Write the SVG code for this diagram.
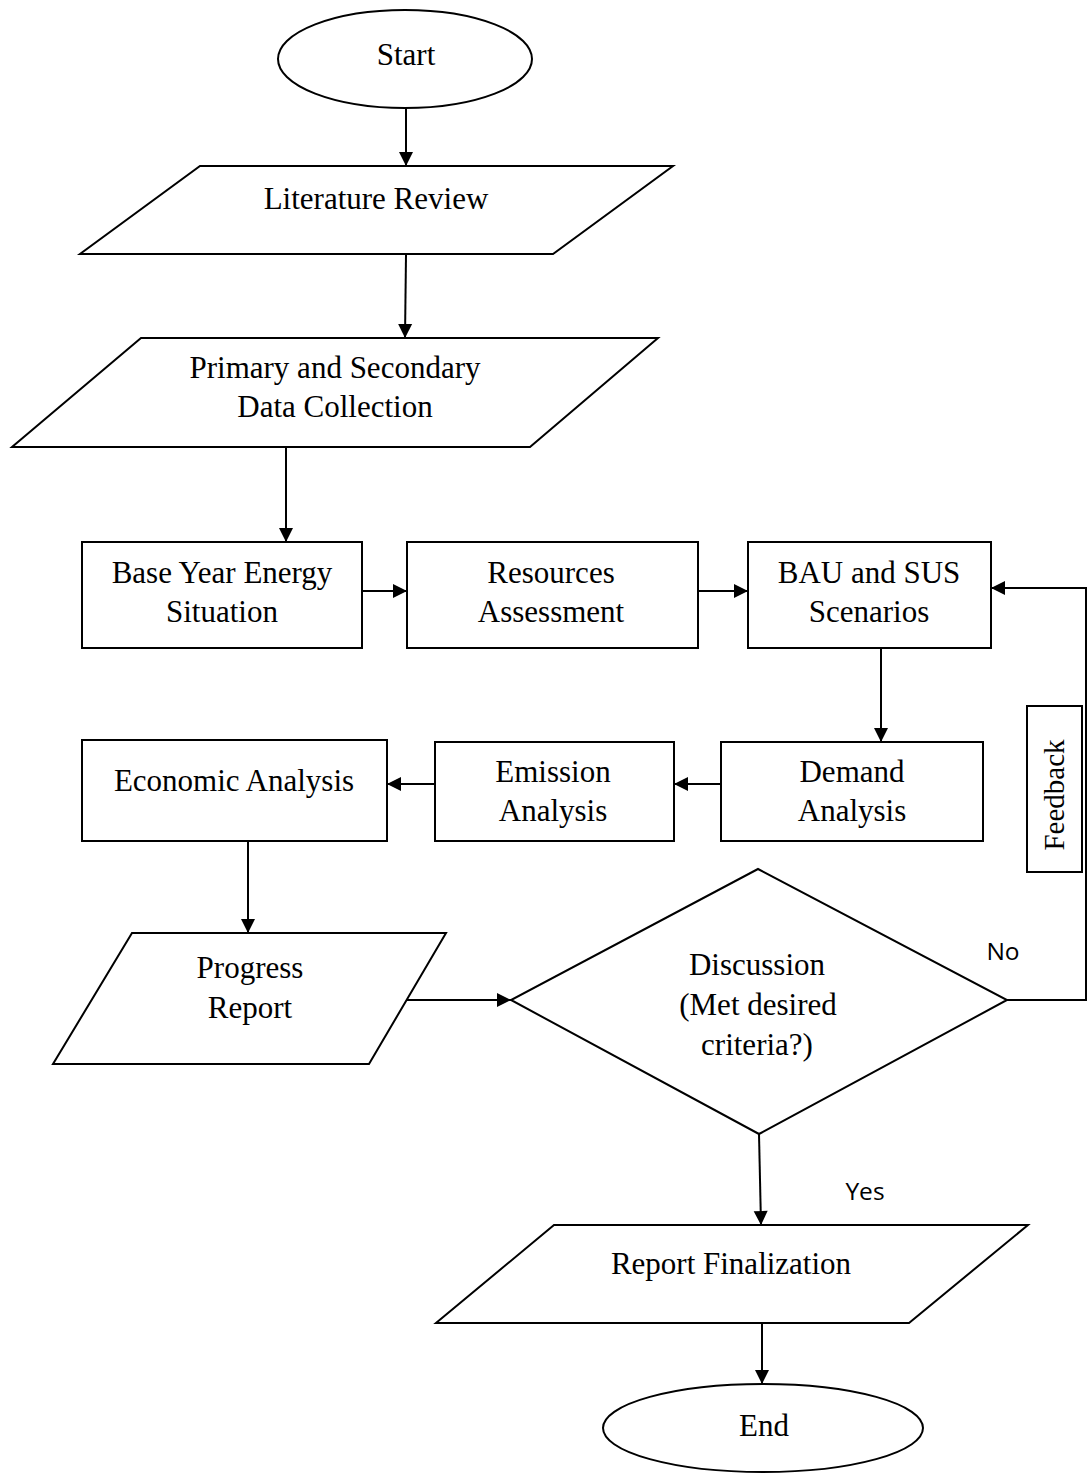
<svg xmlns="http://www.w3.org/2000/svg" width="1087" height="1475" viewBox="0 0 1087 1475">
<style>
.s{fill:#fff;stroke:#000;stroke-width:2}
.t{font-family:"Liberation Serif","Times New Roman",serif;font-size:31px;fill:#000;text-anchor:middle}
.f{font-family:"Liberation Serif","Times New Roman",serif;font-size:29px;fill:#000;text-anchor:middle}
.l{font-family:"Open Sans","Noto Sans",sans-serif;font-size:24.5px;fill:#000;text-anchor:middle}
.c{fill:none;stroke:#000;stroke-width:2}
</style>
<defs>
<marker id="ah" markerUnits="userSpaceOnUse" markerWidth="16" markerHeight="16" viewBox="0 0 16 16" refX="15" refY="8" orient="auto">
<path d="M1,1 L15,8 L1,15 Z" fill="#000"/>
</marker>
</defs>
<rect width="1087" height="1475" fill="#fff"/>
<g id="connectors">
<line class="c" x1="406" y1="108" x2="406" y2="166" marker-end="url(#ah)"/>
<line class="c" x1="406" y1="255" x2="405" y2="338" marker-end="url(#ah)"/>
<line class="c" x1="286" y1="447" x2="286" y2="542" marker-end="url(#ah)"/>
<line class="c" x1="362" y1="591" x2="407" y2="591" marker-end="url(#ah)"/>
<line class="c" x1="698" y1="591" x2="748" y2="591" marker-end="url(#ah)"/>
<line class="c" x1="881" y1="648" x2="881" y2="742" marker-end="url(#ah)"/>
<line class="c" x1="721" y1="784" x2="674" y2="784" marker-end="url(#ah)"/>
<line class="c" x1="435" y1="784" x2="387" y2="784" marker-end="url(#ah)"/>
<line class="c" x1="248" y1="841" x2="248" y2="933" marker-end="url(#ah)"/>
<line class="c" x1="407" y1="1000" x2="511" y2="1000" marker-end="url(#ah)"/>
<line class="c" x1="759" y1="1134" x2="761" y2="1225" marker-end="url(#ah)"/>
<line class="c" x1="762" y1="1323" x2="762" y2="1384" marker-end="url(#ah)"/>
<polyline class="c" points="1007,1000 1086,1000 1086,588 991,588" marker-end="url(#ah)"/>
</g>
<g id="start">
<ellipse class="s" cx="405" cy="59" rx="127" ry="49"/>
<text class="t" x="406" y="65">Start</text>
</g>
<g id="literature">
<polygon class="s" points="200,166 673,166 553,254 80,254"/>
<text class="t" x="376" y="209">Literature Review</text>
</g>
<g id="data">
<polygon class="s" points="141,338 658,338 530,447 12,447"/>
<text class="t" x="335" y="378">Primary and Secondary</text>
<text class="t" x="335" y="417">Data Collection</text>
</g>
<g id="base">
<rect class="s" x="82" y="542" width="280" height="106"/>
<text class="t" x="222" y="583">Base Year Energy</text>
<text class="t" x="222" y="622">Situation</text>
</g>
<g id="resources">
<rect class="s" x="407" y="542" width="291" height="106"/>
<text class="t" x="551" y="583">Resources</text>
<text class="t" x="551" y="622">Assessment</text>
</g>
<g id="scenarios">
<rect class="s" x="748" y="542" width="243" height="106"/>
<text class="t" x="869" y="583">BAU and SUS</text>
<text class="t" x="869" y="622">Scenarios</text>
</g>
<g id="demand">
<rect class="s" x="721" y="742" width="262" height="99"/>
<text class="t" x="852" y="782">Demand</text>
<text class="t" x="852" y="821">Analysis</text>
</g>
<g id="emission">
<rect class="s" x="435" y="742" width="239" height="99"/>
<text class="t" x="553" y="782">Emission</text>
<text class="t" x="553" y="821">Analysis</text>
</g>
<g id="economic">
<rect class="s" x="82" y="740" width="305" height="101"/>
<text class="t" x="234" y="791">Economic Analysis</text>
</g>
<g id="progress">
<polygon class="s" points="132,933 446,933 369,1064 53,1064"/>
<text class="t" x="250" y="978">Progress</text>
<text class="t" x="250" y="1018">Report</text>
</g>
<g id="discussion">
<polygon class="s" points="758,869 1007,1000 759,1134 511,1000"/>
<text class="t" x="757" y="975">Discussion</text>
<text class="t" x="758" y="1015">(Met desired</text>
<text class="t" x="757" y="1055">criteria?)</text>
</g>
<g id="feedback">
<rect class="s" x="1027" y="706" width="55" height="166"/>
<text class="f" transform="translate(1064,795) rotate(-90)">Feedback</text>
</g>
<g id="labels">
<text class="l" x="1003" y="960">No</text>
<text class="l" x="865" y="1200">Yes</text>
</g>
<g id="final">
<polygon class="s" points="554,1225 1028,1225 909,1323 436,1323"/>
<text class="t" x="731" y="1274">Report Finalization</text>
</g>
<g id="end">
<ellipse class="s" cx="763" cy="1428" rx="160" ry="44"/>
<text class="t" x="764" y="1436">End</text>
</g>
</svg>
